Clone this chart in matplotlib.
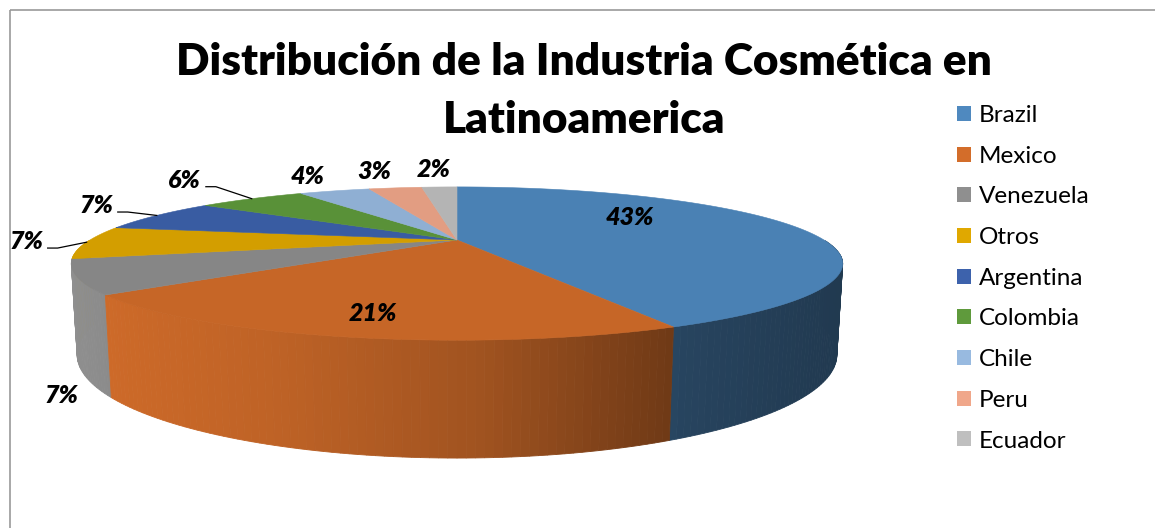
import numpy as np
import matplotlib
matplotlib.use('Agg')
import matplotlib.pyplot as plt
from matplotlib.patches import Polygon, Rectangle, Patch

# data
categories = ['Brazil', 'Mexico', 'Venezuela', 'Otros', 'Argentina',
              'Colombia', 'Chile', 'Peru', 'Ecuador']
shares = [43, 21, 7, 7, 7, 6, 4, 3, 2]
colors = ['#4F89BF', '#D36D2A', '#8F8F8F', '#E0A800', '#3D62AC',
          '#5F9A3C', '#98BAE0', '#F0A78A', '#BFBFBF']
title_lines = ['Distribución de la Industria Cosmética en', 'Latinoamerica']

# label layout (radius on the pie, pixel nudge, leader line)
label_r = [0.5, 0.8, 1.05, 1.16, 1.23, 1.43, 1.3, 1.5, 1.5]
label_dy = [-15, 2, 20, -1, -5, -5, -4, 2, 1]
label_on_bottom = [False, False, True, False, False, False, False, False, False]
leader = [False, False, False, True, True, True, False, False, False]

# 3d view of the pie (pixels)
cx, cy = 457, 240
A = 1173
phi = np.radians(10.9)
D = 3.196
h = 0.235
s, c = np.sin(phi), np.cos(phi)


def proj(r, th, y=0.0):
    X = r * np.cos(th)
    Z = -r * np.sin(th)
    d = D - Z * c - y * s
    return cx + A * X / d, cy + A * (Z * s - y * c) / d


def side_shade(col, sx):
    f = np.interp(sx, [70, 110, 280, 480, 670, 680, 840],
                  [1.0, 0.97, 0.9, 0.76, 0.53, 0.5, 0.42])
    rgb = np.array(matplotlib.colors.to_rgb(col))
    return tuple(np.clip(rgb * f, 0, 1))


top_colors = [tuple(np.array(matplotlib.colors.to_rgb(col)) * 0.94) for col in colors]

fig = plt.figure(figsize=(11.55, 5.28), dpi=100)
ax = fig.add_axes([0, 0, 1, 1])
ax.set_xlim(0, 1155)
ax.set_ylim(528, 0)
ax.axis('off')

# chart border
ax.add_patch(Rectangle((10, 10), 1300, 700, fill=False, edgecolor='#9A9A9A', lw=1.2))

frac = np.array(shares) / sum(shares)
bounds = np.radians(90 - 360 * np.concatenate([[0], np.cumsum(frac)]))

# side strips (front half only), far ones first
strips = []
for i in range(len(shares)):
    t0, t1 = bounds[i], bounds[i + 1]
    n = max(2, int(abs(np.degrees(t0 - t1))) + 1)
    th = np.linspace(t0, t1, n)
    for a, b in zip(th[:-1], th[1:]):
        mid = (a + b) / 2
        if -np.sin(mid) <= 0:
            continue
        pts = [proj(1, a), proj(1, b), proj(1, b, -h), proj(1, a, -h)]
        sx = proj(1, mid)[0]
        strips.append((-np.sin(mid), pts, side_shade(colors[i], sx)))
strips.sort(key=lambda t: t[0])
for z, pts, col in strips:
    ax.add_patch(Polygon(pts, closed=True, facecolor=col, edgecolor=col, lw=0.6))

# top faces
for i in range(len(shares)):
    th = np.linspace(bounds[i], bounds[i + 1], 120)
    pts = [(cx, cy)] + [proj(1, t) for t in th]
    ax.add_patch(Polygon(pts, closed=True, facecolor=top_colors[i],
                         edgecolor=top_colors[i], lw=0.4))

# data labels
lab_font = dict(family=['Lato', 'DejaVu Sans'], fontsize=18, fontweight='heavy',
                fontstyle='italic', color='black')
for i in range(len(shares)):
    mid = (bounds[i] + bounds[i + 1]) / 2
    yl = -h if label_on_bottom[i] else 0.0
    lx, ly = proj(label_r[i], mid, yl)
    ly += label_dy[i]
    ax.text(lx, ly, f'{shares[i]}%', ha='center', va='center', **lab_font)
    if leader[i]:
        rx, ry = proj(1, mid)
        ax.plot([lx + 21, lx + 31, rx], [ly + 6.5, ly + 6.5, ry],
                color='black', lw=0.9)

# title, one text per line
for k, line in enumerate(title_lines):
    ax.text(584, 62 + 58 * k, line, ha='center', va='center', fontsize=31.8,
            fontweight='heavy', family=['Lato', 'DejaVu Sans'])

handles = [Patch(facecolor=col, edgecolor='none', label=cat)
           for cat, col in zip(categories, colors)]
ax.legend(handles=handles, loc='upper left', bbox_to_anchor=(957 / 1155, 1 - 105 / 528),
          frameon=False, prop=dict(family=['Lato', 'DejaVu Sans'], size=17.5),
          handlelength=0.58, handleheight=0.58, handletextpad=0.33,
          labelspacing=0.81, borderaxespad=0, borderpad=0)

fig.savefig('out.png', dpi=100)
